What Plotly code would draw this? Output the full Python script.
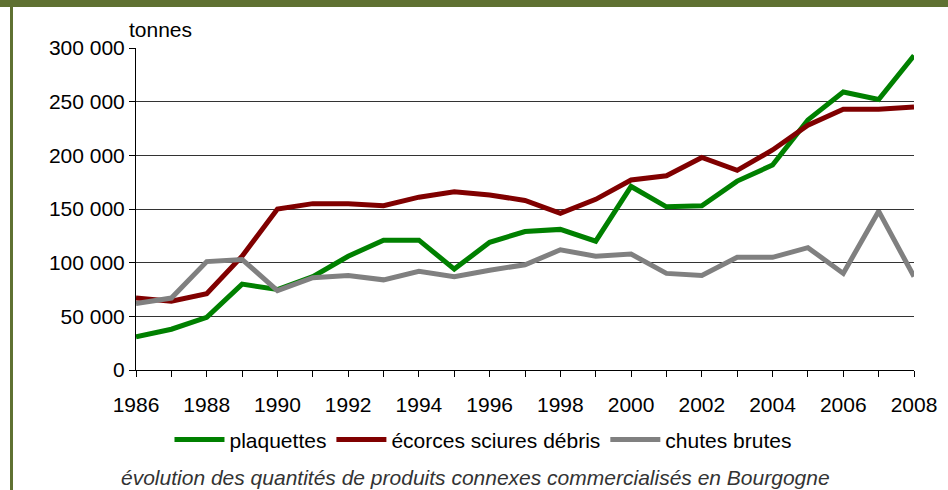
import plotly.graph_objects as go

years = list(range(1986, 2009))
plaquettes = [31000, 38000, 49000, 80000, 75000, 87000, 106000, 121000, 121000, 94000,
              119000, 129000, 131000, 120000, 171000, 152000, 153000, 176000, 191000,
              233000, 259000, 252000, 293000]
ecorces = [67000, 64000, 71000, 106000, 150000, 155000, 155000, 153000, 161000, 166000,
           163000, 158000, 146000, 159000, 177000, 181000, 198000, 186000, 205000,
           228000, 243000, 243000, 245000]
chutes = [62000, 67000, 101000, 103000, 74000, 86000, 88000, 84000, 92000, 87000,
          93000, 98000, 112000, 106000, 108000, 90000, 88000, 105000, 105000,
          114000, 90000, 148000, 87000]

y_ticks = [0, 50000, 100000, 150000, 200000, 250000, 300000]
y_labels = ["0", "50 000", "100 000", "150 000", "200 000", "250 000", "300 000"]
x_labels = [str(y) if y % 2 == 0 else "" for y in years]

font = "Liberation Sans, Arial, sans-serif"
fig = go.Figure()
fig.add_trace(go.Scatter(x=years, y=plaquettes, mode="lines", name="plaquettes",
                         line=dict(color="#008000", width=5)))
fig.add_trace(go.Scatter(x=years, y=ecorces, mode="lines", name="écorces sciures débris",
                         line=dict(color="#800000", width=5)))
fig.add_trace(go.Scatter(x=years, y=chutes, mode="lines", name="chutes brutes",
                         line=dict(color="#808080", width=5)))

fig.update_layout(
    width=948, height=490,
    margin=dict(l=136, r=34, t=48, b=120),
    paper_bgcolor="white", plot_bgcolor="white",
    font=dict(family=font, size=21, color="black"),
    showlegend=True,
    legend=dict(orientation="h", x=0.446, xanchor="center", y=-0.217, yanchor="middle",
                font=dict(size=21), itemwidth=50, tracegroupgap=0, bgcolor="rgba(0,0,0,0)"),
    xaxis=dict(range=[1986, 2008], tickvals=years, ticktext=x_labels, ticks="outside",
               ticklen=6, tickcolor="black", showline=True, linecolor="black", linewidth=1,
               showgrid=False, zeroline=False, fixedrange=True, ticklabelstandoff=10),
    yaxis=dict(range=[0, 300000], tickvals=y_ticks, ticktext=y_labels, ticks="outside",
               ticklen=6, tickcolor="black", showline=True, linecolor="black", linewidth=1,
               showgrid=True, gridcolor="#333333", gridwidth=1, zeroline=False,
               fixedrange=True),
    annotations=[
        dict(text="tonnes", xref="paper", yref="paper", x=-0.012, y=1.056,
             xanchor="left", yanchor="middle", showarrow=False, font=dict(size=21)),
        dict(text="<i>évolution des quantités de produits connexes commercialisés en Bourgogne</i>",
             xref="paper", yref="paper", x=0.437, y=-0.335, xanchor="center", yanchor="middle",
             showarrow=False, font=dict(size=21, color="#333333")),
    ],
    shapes=[
        dict(type="rect", xref="paper", yref="paper",
             x0=-136/778, x1=(948-136)/778, y0=(370-7)/322, y1=370/322,
             fillcolor="#5f7132", line=dict(width=0), layer="above"),
        dict(type="rect", xref="paper", yref="paper",
             x0=(10-136)/778, x1=(13-136)/778, y0=(370-490)/322, y1=370/322,
             fillcolor="#5f7132", line=dict(width=0), layer="above"),
    ],
)
fig.write_html("out.html", config={"displayModeBar": False},
               post_script="document.body.style.margin='0px';")
